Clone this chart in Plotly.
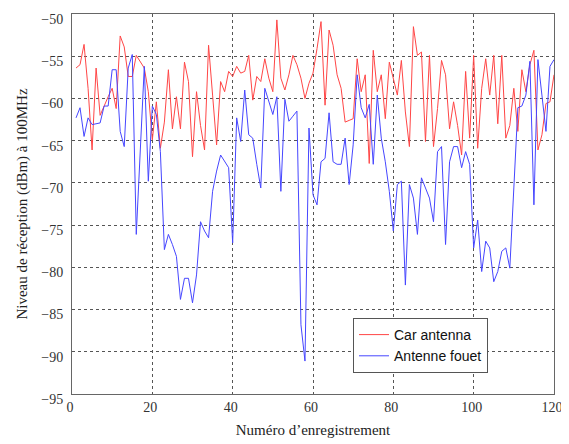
import plotly.graph_objects as go

# record numbers 1..120
records = list(range(1, 121))

car_antenna = [
    -56.4, -56.0, -53.6, -58.8, -66.1, -56.4, -62.0, -60.8, -59.8, -58.8,
    -61.2, -52.6, -53.9, -57.4, -57.4, -54.9, -55.7, -56.4, -59.2, -64.9,
    -60.4, -65.9, -62.8, -56.6, -63.6, -59.8, -63.6, -55.7, -58.0, -66.9,
    -59.2, -63.2, -66.1, -53.7, -59.6, -65.5, -58.0, -59.2, -56.8, -57.4,
    -56.2, -57.0, -56.8, -54.9, -60.2, -57.4, -58.0, -55.3, -57.6, -59.2,
    -50.7, -57.6, -59.0, -57.2, -54.9, -56.0, -57.6, -60.0, -58.2, -57.0,
    -54.1, -50.9, -60.8, -51.9, -53.7, -57.2, -58.8, -62.8, -62.6, -62.4,
    -55.3, -59.2, -57.2, -67.7, -54.3, -59.2, -57.2, -62.4, -55.7, -57.6,
    -59.6, -55.5, -61.6, -65.7, -51.5, -54.9, -54.5, -65.1, -54.9, -65.7,
    -61.2, -55.5, -57.2, -63.6, -60.4, -63.2, -66.7, -56.8, -64.7, -54.9,
    -65.9, -58.8, -55.3, -59.6, -54.9, -63.0, -54.9, -64.7, -63.2, -58.8,
    -63.9, -56.6, -59.2, -56.0, -54.3, -66.1, -64.3, -60.6, -60.4, -57.2,
]

antenne_fouet = [
    -62.3, -61.1, -64.5, -62.3, -63.1, -63.0, -62.9, -60.9, -60.9, -56.6,
    -56.6, -63.9, -65.7, -56.4, -54.8, -76.1, -65.5, -56.2, -69.8, -60.9,
    -61.9, -66.3, -77.9, -76.1, -77.3, -78.7, -83.8, -81.3, -81.3, -84.2,
    -80.9, -74.6, -75.7, -76.5, -71.0, -68.6, -66.7, -67.5, -68.2, -77.1,
    -62.3, -65.1, -59.0, -64.3, -64.7, -67.8, -70.6, -58.8, -60.3, -61.9,
    -59.8, -71.0, -60.1, -62.7, -62.1, -61.5, -86.8, -91.1, -63.5, -71.4,
    -72.6, -67.5, -67.1, -61.7, -67.5, -67.8, -67.8, -64.7, -70.2, -65.5,
    -57.2, -61.1, -62.3, -60.7, -67.8, -59.6, -64.7, -67.5, -71.0, -75.7,
    -70.2, -69.8, -82.1, -70.2, -71.8, -76.1, -69.4, -70.6, -71.8, -74.6,
    -66.3, -65.7, -77.3, -67.5, -65.7, -65.7, -68.2, -66.3, -67.8, -77.7,
    -74.4, -80.5, -76.9, -77.7, -81.7, -80.5, -78.1, -77.7, -80.1, -70.6,
    -61.1, -60.9, -59.6, -55.6, -72.6, -55.4, -59.9, -63.9, -56.2, -55.4,
]

x_ticks = [0, 20, 40, 60, 80, 100, 120]
y_ticks = [-95, -90, -85, -80, -75, -70, -65, -60, -55, -50]

fig = go.Figure()
fig.add_trace(go.Scatter(x=records, y=car_antenna, mode="lines", name="Car antenna",
                         line=dict(color="rgb(255,70,70)", width=1)))
fig.add_trace(go.Scatter(x=records, y=antenne_fouet, mode="lines", name="Antenne fouet",
                         line=dict(color="rgb(70,70,255)", width=1)))

serif = "Liberation Serif"

fig.update_xaxes(range=[0, 120], tickvals=x_ticks, showgrid=True, gridcolor="#555555",
                 griddash="dot", gridwidth=1, showline=True, linecolor="#666666",
                 mirror=True, zeroline=False, ticks="", automargin=False,
                 ticklabeloverflow="allow", ticklabelshift=-2,
                 tickfont=dict(family=serif, size=14, color="#333333"),
                 title=dict(text="Numéro d’enregistrement", standoff=10,
                            font=dict(family=serif, size=15, color="#222222")))
fig.update_yaxes(range=[-95, -50], tickvals=y_ticks, showgrid=True, gridcolor="#555555",
                 griddash="dot", gridwidth=1, showline=True, linecolor="#666666",
                 mirror=True, zeroline=False, ticks="", automargin=False,
                 ticklabeloverflow="allow", ticklabelshift=5, ticklabelstandoff=5,
                 tickfont=dict(family=serif, size=14, color="#333333"),
                 title=dict(text="Niveau de réception (dBm) à 100MHz", standoff=10,
                            font=dict(family=serif, size=15, color="#222222")))

# the page body adds an 8px margin, so the figure is offset inside the window
fig.update_layout(
    width=561, height=436,
    margin=dict(l=64, r=15, t=6, b=50),
    paper_bgcolor="white", plot_bgcolor="white",
    showlegend=True,
    legend=dict(x=0.583, y=0.2, xanchor="left", yanchor="top",
                bgcolor="white", bordercolor="#555555", borderwidth=1,
                font=dict(family="Liberation Sans", size=14, color="#111111"),
                tracegroupgap=0),
)

fig.write_html("out.html")
